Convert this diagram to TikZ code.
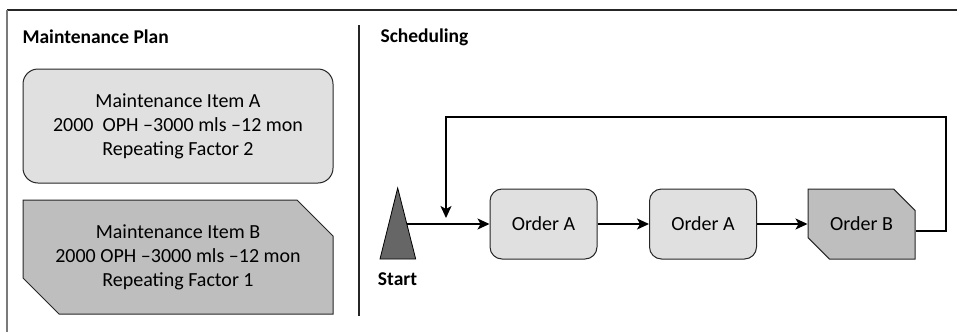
\documentclass[tikz,border=0pt]{standalone}
\usepackage{fontspec}
\setmainfont{Carlito}
\definecolor{boxlight}{HTML}{E0E0E0}
\definecolor{boxdark}{HTML}{BEBEBE}
\definecolor{startgray}{HTML}{666666}
\definecolor{framegray}{HTML}{7A7A7A}
\usetikzlibrary{arrows.meta,positioning,shapes.misc}

\begin{document}
\begin{tikzpicture}[x=1pt,y=-1pt,
    plainbox/.style={draw=black!85, line width=1pt, fill=boxlight, rounded corners=15pt, align=center,
      font=\fontsize{20}{24}\selectfont},
    cutbox/.style={draw=black!85, line width=1pt, fill=boxdark, chamfered rectangle,
      chamfered rectangle corners={north east,south west}, align=center, font=\fontsize{20}{24}\selectfont},
    title/.style={font=\fontsize{19.5}{20}\selectfont\bfseries, anchor=west},
    arr/.style={-{Stealth[length=12pt,width=11pt,inset=3pt]}, line width=1.4pt}]
  \useasboundingbox (0,0) rectangle (957,332);

  %% Frame and divider
  \draw[line width=1.4pt, black!85] (7,10) -- (957,10);
  \draw[line width=1.4pt, framegray] (7,10) -- (7,332);
  \draw[line width=1.4pt, black!85] (359,25) -- (359,316);

  %% Maintenance plan
  \node[title] (plan) at (19,37) {Maintenance Plan};
  \node[plainbox, minimum width=310pt, minimum height=114pt] (itemA) at (178,126)
    {Maintenance Item A\\2000\ \ OPH --3000 mls --12 mon\\Repeating Factor 2};
  \node[cutbox, chamfered rectangle xsep=18pt, chamfered rectangle ysep=18pt, minimum width=310pt, minimum height=114pt] (itemB) at (178,257)
    {Maintenance Item B\\2000 OPH --3000 mls --12 mon\\Repeating Factor 1};

  %% Scheduling
  \node[title] (sched) at (377,37) {Scheduling};
  \draw[fill=startgray, draw=black, line width=0.8pt] (397.7,188) -- (415.7,259) -- (380,259) -- cycle;
  \coordinate (startout) at (406.9,224);
  \node[font=\fontsize{19.5}{20}\selectfont\bfseries] (start) at (397.5,279) {Start};

  \node[plainbox, rounded corners=12pt, minimum width=107pt, minimum height=70pt] (ordA) at (543.5,224) {Order A};
  \node[plainbox, rounded corners=12pt, minimum width=107pt, minimum height=70pt] (ordA2) at (703,224) {Order A};
  \node[cutbox, chamfered rectangle xsep=11pt, chamfered rectangle ysep=11pt, minimum width=107pt, minimum height=70pt] (ordB) at (861.5,224) {Order B};

  \draw[arr] (startout) -- (ordA.west);
  \draw[arr] (ordA.east) -- (ordA2.west);
  \draw[arr] (ordA2.east) -- (ordB.west);

  %% Repeat loop
  \coordinate (loopin) at (446,218);
  \draw[arr] ([yshift=-7pt]ordB.east) -| (946,117) -| (loopin);
\end{tikzpicture}
\end{document}
